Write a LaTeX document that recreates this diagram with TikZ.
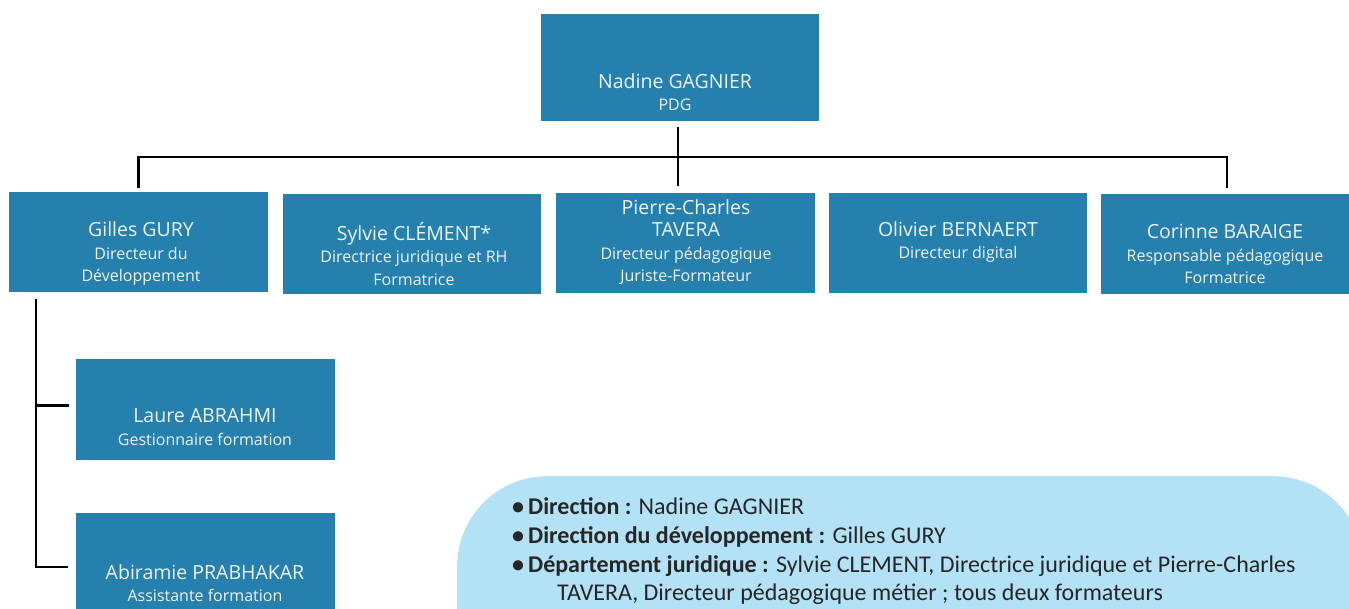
\documentclass[tikz,border=0pt]{standalone}
\usepackage{fontspec}
\setmainfont{Carlito}
\newfontfamily\boxfont{Open Sans}
\definecolor{boxblue}{HTML}{2580AE}
\definecolor{boxtext}{HTML}{EEF4F8}
\definecolor{infobg}{HTML}{B3E2F6}
\definecolor{infotext}{HTML}{262626}
\tikzset{
  orgbox/.style={fill=boxblue, draw=none, inner sep=0pt, anchor=north west},
  orgtext/.style={text=boxtext, align=center, inner sep=0pt, font=\boxfont\fontsize{16}{22.5}\selectfont},
  conn/.style={draw=black, line width=2.5pt},
  infobox/.style={fill=infobg, draw=none, rounded corners=90pt, inner sep=0pt, anchor=north west},
  infoline/.style={text=infotext, inner sep=0pt, anchor=base west, font=\fontsize{24}{28}\selectfont},
}
\newcommand{\nm}[1]{{\fontsize{19.5}{24}\selectfont #1}}
\begin{document}
\begin{tikzpicture}[x=1pt,y=-1pt]
\useasboundingbox (0,0) rectangle (1349,609);
\clip (0,0) rectangle (1349,609);
% boxes
\node[orgbox, minimum width=278pt, minimum height=107pt] (top) at (541,14) {};
\node[orgbox, minimum width=259pt, minimum height=100pt] (gil) at (9,192) {};
\node[orgbox, minimum width=258pt, minimum height=100pt] (syl) at (283,194) {};
\node[orgbox, minimum width=259pt, minimum height=100pt] (pc) at (556,193) {};
\node[orgbox, minimum width=258pt, minimum height=100pt] (oli) at (829,193) {};
\node[orgbox, minimum width=250pt, minimum height=100pt] (cor) at (1101,194) {};
\node[orgbox, minimum width=259pt, minimum height=101pt] (lau) at (76,359) {};
\node[orgbox, minimum width=259pt, minimum height=108pt] (abi) at (76,513) {};
% texts
\node[orgtext] (top-t) at (675,92) {\nm{Nadine GAGNIER}\\PDG};
\node[orgtext] (gil-t) at (141,254) {\nm{Gilles GURY}\\Directeur du\\Développement};
\node[orgtext] (syl-t) at (414,254) {\nm{Sylvie CLÉMENT*}\\Directrice juridique et RH\\Formatrice};
\node[orgtext] (pc-t) at (686,242) {\nm{Pierre-Charles}\\\nm{TAVERA}\\Directeur pédagogique\\Juriste-Formateur};
\node[orgtext] (oli-t) at (958,242) {\nm{Olivier BERNAERT}\\Directeur digital};
\node[orgtext] (cor-t) at (1225,254) {\nm{Corinne BARAIGE}\\Responsable pédagogique\\Formatrice};
\node[orgtext] (lau-t) at (205,427) {\nm{Laure ABRAHMI}\\Gestionnaire formation};
\node[orgtext] (abi-t) at (205,583) {\nm{Abiramie PRABHAKAR}\\Assistante formation};
% connectors
\coordinate (bus) at (678,157);
\coordinate (lv) at (36,299);
\draw[conn] ([yshift=-6pt]bus |- top.south) -- ([yshift=7pt]bus |- pc.north);
\draw[conn] ([yshift=4pt]gil.north) |- (bus) -| ([xshift=1pt,yshift=6pt]cor.north);
\draw[conn] (lv) |- ([xshift=-7pt,yshift=4pt]lau.west);
\draw[conn] (lv) |- ([xshift=-8pt]abi.west);
% info panel
\node[infobox, minimum width=906pt, minimum height=240pt] (info) at (457,476) {};
\node[infoline] (l1) at (512,514) {\textbf{•\,Direction :} Nadine GAGNIER};
\node[infoline] (l2) at (512,543) {\textbf{•\,Direction du développement :} Gilles GURY};
\node[infoline] (l3) at (512,572) {\textbf{•\,Département juridique :} Sylvie CLEMENT, Directrice juridique et Pierre-Charles};
\node[infoline] (l4) at (557,600) {TAVERA, Directeur pédagogique métier ; tous deux formateurs};
\end{tikzpicture}
\end{document}
